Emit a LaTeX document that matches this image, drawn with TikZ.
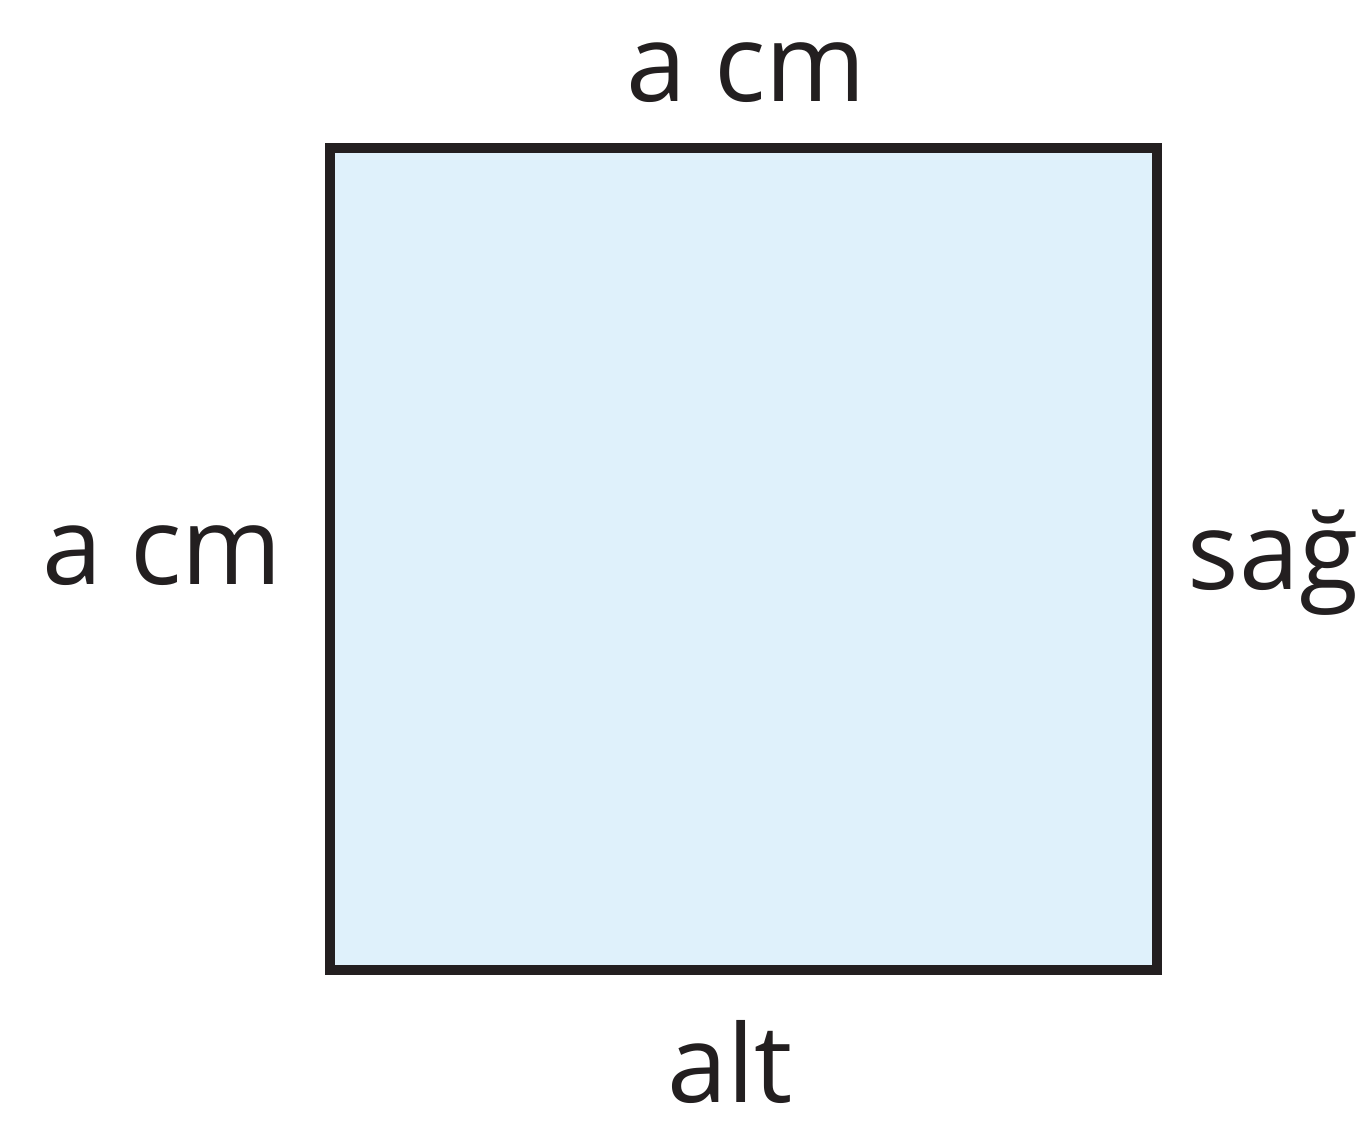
\documentclass[tikz,border=0pt]{standalone}
\usepackage{fontspec}
\setmainfont{Open Sans}
\begin{document}
\begin{tikzpicture}[x=0.5pt,y=-0.5pt,
  lbl/.style={font=\fontsize{54}{64}\selectfont, text=inkc, inner sep=0pt, anchor=base}]
\useasboundingbox (0,0) rectangle (1371,1133);
\definecolor{sqfill}{HTML}{DFF1FB}
\definecolor{inkc}{HTML}{231F20}
\draw[line width=5pt, draw=inkc, fill=sqfill] (330,148) rectangle (1157,970);
\node[lbl] (top) at (746,102) {a cm};
\node[lbl] (left) at (162,585) {a cm};
\node[lbl] (right) at (1273,590) {sağ};
\node[lbl] (bottom) at (730,1102) {alt};
\end{tikzpicture}
\end{document}
